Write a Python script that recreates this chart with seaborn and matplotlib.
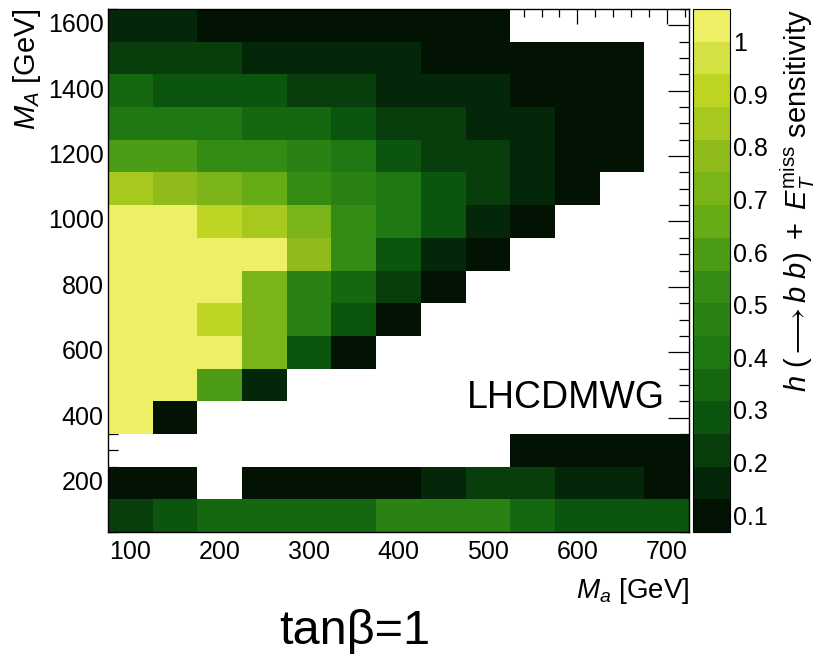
import numpy as np
import pandas as pd
import seaborn as sns
import matplotlib.pyplot as plt
from matplotlib.colors import LinearSegmentedColormap, ListedColormap

# bin centres [GeV]: M_a along x, M_A along y (top row first)
ma_bins = [100, 150, 200, 250, 300, 350, 400, 450, 500, 550, 600, 650, 700]
mA_bins = [1600, 1500, 1400, 1300, 1200, 1100, 1000, 900, 800, 700, 600, 500, 400, 300, 200, 100]

nan = np.nan
# h(->bb)+MET sensitivity, one list per M_A row, nan = no point
sens_1600 = [0.16, 0.16, 0.10, 0.10, 0.10, 0.10, 0.10, 0.10, 0.10, nan, nan, nan, nan]
sens_1500 = [0.22, 0.22, 0.22, 0.16, 0.16, 0.16, 0.16, 0.10, 0.10, 0.10, 0.10, 0.10, nan]
sens_1400 = [0.35, 0.29, 0.29, 0.29, 0.22, 0.22, 0.16, 0.16, 0.16, 0.10, 0.10, 0.10, nan]
sens_1300 = [0.41, 0.41, 0.41, 0.35, 0.35, 0.29, 0.22, 0.22, 0.16, 0.16, 0.10, 0.10, nan]
sens_1200 = [0.60, 0.60, 0.53, 0.53, 0.47, 0.41, 0.29, 0.22, 0.22, 0.16, 0.10, 0.10, nan]
sens_1100 = [0.84, 0.78, 0.72, 0.66, 0.53, 0.47, 0.41, 0.29, 0.22, 0.16, 0.10, nan, nan]
sens_1000 = [1.03, 1.04, 0.91, 0.84, 0.72, 0.53, 0.41, 0.29, 0.16, 0.10, nan, nan, nan]
sens_900 = [1.04, 1.05, 1.03, 1.02, 0.78, 0.53, 0.29, 0.16, 0.10, nan, nan, nan, nan]
sens_800 = [1.05, 1.04, 1.03, 0.72, 0.47, 0.35, 0.22, 0.10, nan, nan, nan, nan, nan]
sens_700 = [1.05, 1.06, 0.91, 0.72, 0.47, 0.29, 0.10, nan, nan, nan, nan, nan, nan]
sens_600 = [1.04, 1.05, 1.02, 0.72, 0.29, 0.10, nan, nan, nan, nan, nan, nan, nan]
sens_500 = [1.05, 1.03, 0.60, 0.16, nan, nan, nan, nan, nan, nan, nan, nan, nan]
sens_400 = [1.03, 0.10, nan, nan, nan, nan, nan, nan, nan, nan, nan, nan, nan]
sens_300 = [nan, nan, nan, nan, nan, nan, nan, nan, nan, 0.10, 0.10, 0.10, 0.09]
sens_200 = [0.10, 0.10, nan, 0.09, 0.10, 0.10, 0.10, 0.16, 0.22, 0.22, 0.16, 0.16, 0.10]
sens_100 = [0.22, 0.29, 0.35, 0.35, 0.35, 0.35, 0.47, 0.47, 0.47, 0.35, 0.29, 0.29, 0.29]

rows = [sens_1600, sens_1500, sens_1400, sens_1300, sens_1200, sens_1100, sens_1000, sens_900,
        sens_800, sens_700, sens_600, sens_500, sens_400, sens_300, sens_200, sens_100]
df = pd.DataFrame(rows, index=mA_bins, columns=ma_bins)

x_ticks = [100, 200, 300, 400, 500, 600, 700]
y_ticks = [200, 400, 600, 800, 1000, 1200, 1400, 1600]
z_ticks = [0.1, 0.2, 0.3, 0.4, 0.5, 0.6, 0.7, 0.8, 0.9, 1.0]
z_labels = ['0.1', '0.2', '0.3', '0.4', '0.5', '0.6', '0.7', '0.8', '0.9', '1']
z_min, z_max = 0.068, 1.062

sns.set_style('white')
plt.rcParams['font.family'] = ['Liberation Sans', 'DejaVu Sans']
plt.rcParams['mathtext.fontset'] = 'custom'
plt.rcParams['mathtext.rm'] = 'Liberation Sans'
plt.rcParams['mathtext.it'] = 'Liberation Sans:italic'
plt.rcParams['axes.linewidth'] = 1.0
for key in ['text.color', 'axes.labelcolor', 'xtick.color', 'ytick.color', 'axes.edgecolor']:
    plt.rcParams[key] = 'black'

# ROOT kAvocado palette, 16 contour levels
av_r = [0, 4, 12, 30, 52, 101, 142, 190, 237]
av_g = [0, 40, 86, 121, 140, 172, 187, 213, 240]
av_b = [0, 9, 14, 18, 21, 23, 27, 35, 101]
avocado = LinearSegmentedColormap.from_list(
    'avocado', [(r / 255, g / 255, b / 255) for r, g, b in zip(av_r, av_g, av_b)], N=255)
n_levels = 16
cmap = ListedColormap([avocado(int((k + 0.99) * 255 / n_levels)) for k in range(n_levels)])

fig = plt.figure(figsize=(8.27, 6.56), dpi=100)
ax = fig.add_axes([108 / 827, 1 - 532 / 656, 581 / 827, 523 / 656])
cax = fig.add_axes([693 / 827, 1 - 532 / 656, 37 / 827, 523 / 656])

sns.heatmap(df, ax=ax, cbar_ax=cax, cmap=cmap, vmin=z_min, vmax=z_max)

for s in ax.spines.values():
    s.set_visible(True)
    s.set_color('black')
    s.set_linewidth(1.0)

# heatmap cells sit at 0.5, 1.5, ... so map GeV onto cell units
dx = ma_bins[1] - ma_bins[0]
dy = mA_bins[0] - mA_bins[1]
def xpos(v):
    return (np.asarray(v) - ma_bins[0]) / dx + 0.5
def ypos(v):
    return (mA_bins[0] - np.asarray(v)) / dy + 0.5

ax.set_xticks(xpos(x_ticks), [str(t) for t in x_ticks], rotation=0)
ax.set_xticks(xpos(np.arange(80, 721, 20)), minor=True)
ax.set_yticks(ypos(y_ticks), [str(t) for t in y_ticks], rotation=0, va='center')
ax.set_yticks(ypos(np.arange(50, 1651, 50)), minor=True)

ax.tick_params(axis='x', which='major', direction='in', length=10.8, width=0.9,
               top=True, bottom=True, labelsize=18, pad=6)
ax.tick_params(axis='x', which='minor', direction='in', length=5.4, width=0.9, top=True, bottom=True)
ax.tick_params(axis='y', which='major', direction='in', length=15, width=0.9,
               left=True, right=True, labelsize=18, pad=3)
ax.tick_params(axis='y', which='minor', direction='in', length=7.5, width=0.9, left=True, right=True)

ax.set_xlabel(r'$M_{a}$ [GeV]', loc='right', fontsize=20)
ax.xaxis.set_label_coords(1.0, -0.085)
ax.set_ylabel(r'$M_{A}$ [GeV]', loc='top', fontsize=21)
ax.yaxis.set_label_coords(-0.112, 1.0)

cb = ax.collections[0].colorbar
cb.outline.set_linewidth(0.8)
cb.outline.set_edgecolor('black')
cb.set_ticks(z_ticks, labels=z_labels)
cb.minorticks_off()
cax.tick_params(direction='in', length=14.4, width=0.9, labelsize=18, pad=2)
cb.set_label(r'$h\ (\longrightarrow b\ b)\ +\ E_{T}^{\mathrm{miss}}$ sensitivity', loc='top',
             fontsize=21)
cax.yaxis.set_label_coords(2.3, 1.0)

ax.text(0.9587, 0.237, 'LHCDMWG', transform=ax.transAxes, ha='right', va='baseline',
        fontsize=27)
fig.text(0.429, 0.018, 'tanβ=1', ha='center', va='baseline', fontsize=35)

fig.savefig('out.png', dpi=100)
